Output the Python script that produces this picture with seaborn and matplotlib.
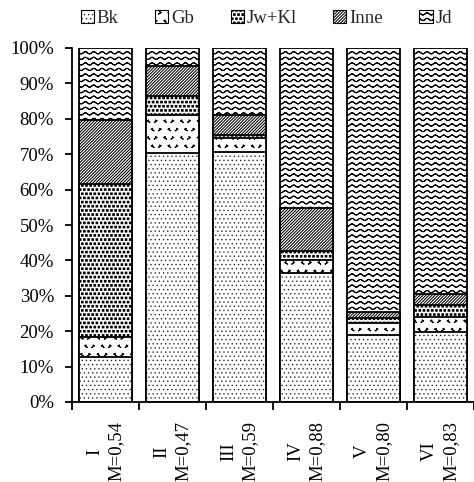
import warnings
import numpy as np
import pandas as pd
import matplotlib
matplotlib.use("Agg")
import matplotlib.pyplot as plt
import matplotlib.hatch as mhatch
from matplotlib.path import Path
from matplotlib.patches import Patch
from matplotlib.ticker import FixedLocator, PercentFormatter
import seaborn as sns

warnings.filterwarnings("ignore")

# ---- data (percent shares per site) ----
sites = ["I", "II", "III", "IV", "V", "VI"]
m_values = ["0,54", "0,47", "0,59", "0,88", "0,80", "0,83"]
bk = [12.8, 70.3, 70.7, 36.4, 18.9, 19.9]
gb = [5.5, 10.8, 4.0, 3.8, 3.3, 4.0]
jwkl = [43.2, 5.3, 0.6, 2.5, 1.6, 3.5]
inne = [18.2, 8.5, 5.8, 12.0, 1.7, 3.1]
jd = [20.3, 5.1, 18.9, 45.3, 74.5, 69.5]

series_names = ["Bk", "Gb", "Jw+Kl", "Inne", "Jd"]
series_values = [bk, gb, jwkl, inne, jd]


# ---- custom hatch patterns ----
class WaveHatch(mhatch.HatchPatternBase):
    """Wavy horizontal lines ('~')."""
    def __init__(self, hatch, density):
        self.rows = hatch.count("~") * density
        self.cycles = 12
        self.npts = 120
        self.num_vertices = self.rows * self.npts * 2 if self.rows else 0

    def set_vertices_and_codes(self, vertices, codes):
        n = self.npts
        x = np.linspace(0, 1, n)
        amp = 0.011
        for i in range(self.rows):
            y = (i + 0.5) / self.rows + amp * np.sin(2 * np.pi * self.cycles * x)
            xs = np.concatenate([x, x[::-1]])
            ys = np.concatenate([y, y[::-1]])
            s = slice(i * 2 * n, (i + 1) * 2 * n)
            vertices[s, 0] = xs
            vertices[s, 1] = ys
            codes[s] = Path.LINETO
            codes[i * 2 * n] = Path.MOVETO


class ChevronHatch(mhatch.HatchPatternBase):
    """Sparse small chevrons ('v')."""
    def __init__(self, hatch, density):
        self.rows = hatch.count("v") * density
        self.num_vertices = self.rows * self.rows * 5 if self.rows else 0

    def set_vertices_and_codes(self, vertices, codes):
        r = self.rows
        h = 0.08 / r
        w = 0.06 / r
        k = 0
        for i in range(r):
            y = (i + 0.5) / r
            for j in range(r):
                x = (j + 0.25 + 0.5 * (i % 2)) / r
                d = 1 if (i + j) % 2 == 0 else -1
                pts = [(x + d * w, y + h), (x - d * w, y), (x + d * w, y - h),
                       (x - d * w, y), (x + d * w, y + h)]
                vertices[k:k + 5] = pts
                codes[k] = Path.MOVETO
                codes[k + 1:k + 5] = Path.LINETO
                k += 5


class DotHatch(mhatch.HatchPatternBase):
    """Staggered square dots."""
    char = "p"
    half = 0.06

    def __init__(self, hatch, density):
        self.rows = hatch.count(self.char) * density
        self.num_vertices = self.rows * self.rows * 5 if self.rows else 0

    def set_vertices_and_codes(self, vertices, codes):
        r = self.rows
        s = self.half / r
        k = 0
        for i in range(r):
            y = (i + 0.5) / r
            for j in range(r):
                x = (j + 0.25 + 0.5 * (i % 2)) / r
                pts = [(x - s, y - s), (x + s, y - s), (x + s, y + s),
                       (x - s, y + s), (x - s, y - s)]
                vertices[k:k + 5] = pts
                codes[k] = Path.MOVETO
                codes[k + 1:k + 4] = Path.LINETO
                codes[k + 4] = Path.CLOSEPOLY
                k += 5


class FineDotHatch(DotHatch):
    char = "p"
    half = 0.03


class BoldDotHatch(DotHatch):
    char = "k"
    half = 0.19


for cls in (WaveHatch, ChevronHatch, FineDotHatch, BoldDotHatch):
    mhatch._hatch_types.append(cls)

hatches = ["pppp", "vv", "kkkk", "/" * 11, "~~~"]

# ---- styling ----
sns.set_theme(style="ticks")
plt.rcParams["font.family"] = ["Liberation Serif", "DejaVu Serif"]
plt.rcParams["hatch.linewidth"] = 0.75
plt.rcParams["hatch.color"] = "black"
FS = 13.5

fig = plt.figure(figsize=(4.74, 4.82), dpi=100)
ax = fig.add_axes([72 / 474, 80 / 482, 402 / 474, 354 / 482])

# stacked bars: draw cumulative totals from the top layer downwards
cum = np.cumsum(np.array(series_values), axis=0)
df = pd.DataFrame({"site": sites})
for idx in range(len(series_names) - 1, -1, -1):
    df["val"] = cum[idx]
    sns.barplot(data=df, x="site", y="val", order=sites, color="white",
                saturation=1, edgecolor="black", linewidth=1.3,
                hatch=hatches[idx], width=0.8, errorbar=None, ax=ax)

ax.set_xlim(-0.5, 5.5)
ax.set_ylim(0, 100)
ax.set_xlabel("")
ax.set_ylabel("")

ax.yaxis.set_major_locator(FixedLocator(np.arange(0, 101, 10)))
ax.yaxis.set_major_formatter(PercentFormatter(decimals=0))
ax.tick_params(axis="y", length=5, width=1.3, color="black",
               labelsize=FS, pad=8, labelcolor="black")

ax.set_xticks(range(len(sites)))
ax.set_xticklabels([f"{s}\nM={m}" for s, m in zip(sites, m_values)],
                   rotation=90, fontsize=FS, ha="center", va="top",
                   multialignment="center", linespacing=1.35)
ax.set_xticks(np.arange(-0.5, 6.0, 1.0), minor=True)
ax.tick_params(axis="x", which="major", length=0, pad=14, labelcolor="black")
ax.tick_params(axis="x", which="minor", length=6, width=1.3, color="black")

sns.despine(ax=ax, top=True, right=True)
for side in ("left", "bottom"):
    ax.spines[side].set_color("black")
    ax.spines[side].set_linewidth(1.3)

handles = [Patch(facecolor="white", edgecolor="black", linewidth=0.8, hatch=h)
           for h in hatches]
fig.legend(handles, series_names, loc="center", bbox_to_anchor=(0.562, 0.962),
           ncol=5, frameon=False, fontsize=FS, handlelength=0.7,
           handleheight=0.7, handletextpad=0.15, columnspacing=1.95)

fig.savefig("out.png", dpi=100)
